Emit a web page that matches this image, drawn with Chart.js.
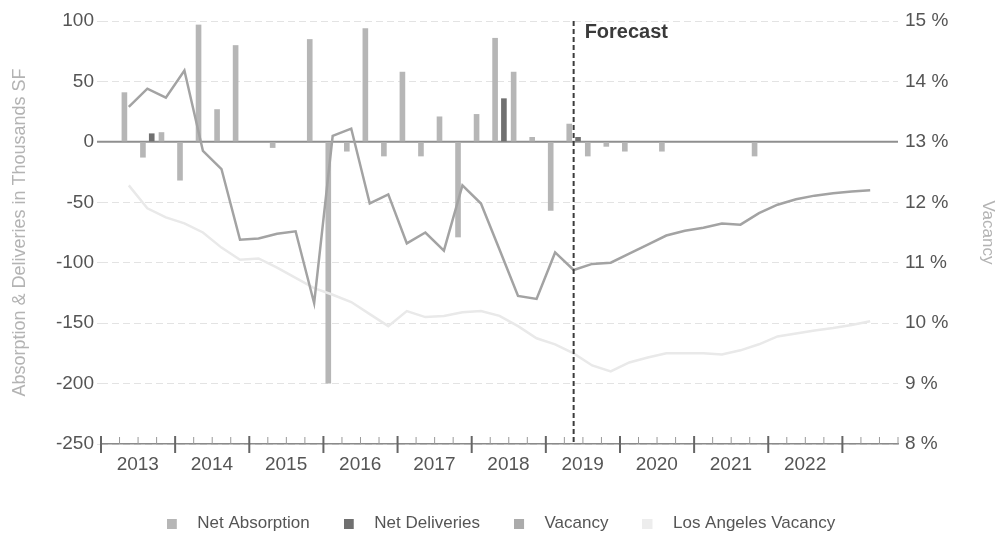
<!DOCTYPE html>
<html>
<head>
<meta charset="utf-8">
<script src="https://cdn.jsdelivr.net/npm/chart.js@4/dist/chart.umd.min.js"></script>
<style>
  html, body { margin: 0; padding: 0; background: #ffffff; }
  canvas { display: block; }
</style>
</head>
<body>
<canvas id="chart" width="1002" height="535"></canvas>
<script>
// Quarterly categories, 2013 Q1 through 2023 Q3
const quarters = [
  '2013 Q1','2013 Q2','2013 Q3','2013 Q4',
  '2014 Q1','2014 Q2','2014 Q3','2014 Q4',
  '2015 Q1','2015 Q2','2015 Q3','2015 Q4',
  '2016 Q1','2016 Q2','2016 Q3','2016 Q4',
  '2017 Q1','2017 Q2','2017 Q3','2017 Q4',
  '2018 Q1','2018 Q2','2018 Q3','2018 Q4',
  '2019 Q1','2019 Q2','2019 Q3','2019 Q4',
  '2020 Q1','2020 Q2','2020 Q3','2020 Q4',
  '2021 Q1','2021 Q2','2021 Q3','2021 Q4',
  '2022 Q1','2022 Q2','2022 Q3','2022 Q4',
  '2023 Q1','2023 Q2','2023 Q3'
];

// Year captions shown under the axis
const yearLabels = ['2013','2014','2015','2016','2017','2018','2019','2020','2021','2022'];

// Net absorption, thousands SF
const netAbsorption = [
  null, 41, -13, 8,
  -32, 97, 27, 80,
  null, -5, null, 85,
  -200, -8, 94, -12,
  58, -12, 21, -79,
  23, 86, 58, 4,
  -57, 15, -12, -4,
  -8, null, -8, null,
  null, null, null, -12,
  null, null, null, null,
  null, null, null
];

// Net deliveries, thousands SF
const netDeliveries = [
  null, null, 7, null,
  null, null, null, null,
  null, null, null, null,
  null, null, null, null,
  null, null, null, null,
  null, 36, null, null,
  null, 4, null, null,
  null, null, null, null,
  null, null, null, null,
  null, null, null, null,
  null, null, null
];

// Submarket vacancy rate, %
const vacancy = [
  null, 13.58, 13.88, 13.73,
  14.18, 12.85, 12.55, 11.38,
  11.40, 11.48, 11.52, 10.33,
  13.10, 13.22, 11.98, 12.13,
  11.32, 11.50, 11.20, 12.28,
  11.98, 11.22, 10.45, 10.40,
  11.17, 10.88, 10.98, 11.00,
  11.15, 11.30, 11.45, 11.53,
  11.58, 11.65, 11.63, 11.82,
  11.96, 12.05, 12.11, 12.15,
  12.18, 12.20, null
];

// Los Angeles market vacancy rate, %
const laVacancy = [
  null, 12.28, 11.90, 11.75,
  11.65, 11.50, 11.25, 11.05,
  11.07, 10.92, 10.75, 10.58,
  10.47, 10.35, 10.15, 9.95,
  10.20, 10.10, 10.12, 10.18,
  10.20, 10.12, 9.95, 9.75,
  9.65, 9.50, 9.30, 9.20,
  9.35, 9.43, 9.50, 9.50,
  9.50, 9.48, 9.55, 9.65,
  9.78, 9.83, 9.88, 9.92,
  9.97, 10.03, null
];

const forecastStart = '2019 Q2';
const forecastText = 'Forecast';

const FONT = "'Liberation Sans', Arial, sans-serif";

// Legend swatch: a small square at the left of a wider transparent strip,
// so the label text sits well clear of the square.
function legendSwatch(color) {
  const c = document.createElement('canvas');
  c.width = 22;
  c.height = 10;
  const g = c.getContext('2d');
  g.fillStyle = color;
  g.fillRect(0, 0, 10, 10);
  return c;
}

// Zero line, quarter/year tick marks and the forecast divider
const axisMarks = {
  id: 'axisMarks',
  beforeDatasetsDraw(chart) {
    const { ctx, chartArea, scales } = chart;
    const y0 = scales.y.getPixelForValue(0);
    ctx.save();
    ctx.strokeStyle = '#8f8f8f';
    ctx.lineWidth = 2;
    ctx.beginPath();
    ctx.moveTo(chartArea.left - 4, y0);
    ctx.lineTo(chartArea.right, y0);
    ctx.stroke();
    ctx.restore();
  },
  afterDatasetsDraw(chart) {
    const { ctx, chartArea, scales } = chart;
    const x = scales.x;
    const n = quarters.length;
    const step = x.getPixelForValue(1) - x.getPixelForValue(0);
    const bottom = chartArea.bottom;
    ctx.save();
    for (let i = 0; i <= n; i++) {
      const px = i < n ? x.getPixelForValue(i) - step / 2 : x.getPixelForValue(n - 1) + step / 2;
      const major = i % 4 === 0;
      ctx.beginPath();
      if (major) {
        ctx.strokeStyle = '#666666';
        ctx.lineWidth = 2;
        ctx.moveTo(px, bottom - 8);
        ctx.lineTo(px, bottom + 9);
      } else {
        ctx.strokeStyle = '#999999';
        ctx.lineWidth = 1;
        ctx.moveTo(px, bottom - 7);
        ctx.lineTo(px, bottom);
      }
      ctx.stroke();
    }

    const fx = x.getPixelForValue(quarters.indexOf(forecastStart));
    ctx.strokeStyle = '#3c3c3c';
    ctx.lineWidth = 2;
    ctx.setLineDash([5, 3]);
    ctx.beginPath();
    ctx.moveTo(fx, chartArea.top);
    ctx.lineTo(fx, bottom);
    ctx.stroke();
    ctx.setLineDash([]);

    ctx.fillStyle = '#3a3a3a';
    ctx.font = 'bold 20px ' + FONT;
    ctx.textBaseline = 'top';
    ctx.textAlign = 'left';
    ctx.fillText(forecastText, fx + 11, chartArea.top + 1);
    ctx.restore();
  }
};

new Chart(document.getElementById('chart'), {
  data: {
    labels: quarters,
    datasets: [
      {
        type: 'bar',
        label: 'Net Absorption',
        data: netAbsorption,
        backgroundColor: '#b6b6b6',
        yAxisID: 'y',
        order: 2,
        categoryPercentage: 0.95,
        barPercentage: 0.64
      },
      {
        type: 'bar',
        label: 'Net Deliveries',
        data: netDeliveries,
        backgroundColor: '#707070',
        yAxisID: 'y',
        order: 3,
        categoryPercentage: 0.95,
        barPercentage: 0.64
      },
      {
        type: 'line',
        label: 'Vacancy',
        data: vacancy,
        borderColor: '#a3a3a3',
        backgroundColor: '#ababab',
        borderWidth: 2.5,
        pointRadius: 0,
        tension: 0,
        fill: false,
        yAxisID: 'y1',
        order: 0
      },
      {
        type: 'line',
        label: 'Los Angeles Vacancy',
        data: laVacancy,
        borderColor: '#e9e9e9',
        backgroundColor: '#ededed',
        borderWidth: 2.5,
        pointRadius: 0,
        tension: 0,
        fill: false,
        yAxisID: 'y1',
        order: 1
      }
    ]
  },
  options: {
    responsive: false,
    animation: false,
    devicePixelRatio: 1,
    layout: { padding: { top: 21, right: 0, bottom: -7, left: 0 } },
    plugins: {
      tooltip: { enabled: false },
      legend: {
        position: 'bottom',
        labels: {
          usePointStyle: true,
          pointStyleWidth: 22,
          padding: 34,
          color: '#555555',
          font: { family: FONT, size: 17 },
          generateLabels(chart) {
            const items = Chart.defaults.plugins.legend.labels.generateLabels(chart);
            items.sort((a, b) => a.datasetIndex - b.datasetIndex);
            items.forEach(it => {
              it.pointStyle = legendSwatch(it.fillStyle);
              it.lineWidth = 0;
            });
            return items;
          }
        }
      }
    },
    scales: {
      x: {
        type: 'category',
        offset: true,
        grid: { display: false, drawTicks: false },
        border: { display: true, color: '#8a8a8a', width: 1.5 },
        ticks: {
          autoSkip: false,
          minRotation: 0,
          maxRotation: 0,
          labelOffset: 9,
          padding: 9,
          color: '#555555',
          font: { family: FONT, size: 19 },
          callback(value, index) {
            const lab = quarters[index];
            const yr = lab.slice(0, 4);
            return lab.endsWith('Q2') && yearLabels.includes(yr) ? yr : '';
          }
        },
        afterFit(scale) { scale.height = 37; }
      },
      y: {
        position: 'left',
        min: -250,
        max: 100,
        ticks: {
          stepSize: 50,
          color: '#555555',
          padding: 3,
          font: { family: FONT, size: 19 }
        },
        grid: {
          color: '#e3e3e3',
          lineWidth: 1,
          drawTicks: true,
          tickLength: 4,
          tickBorderDash: []
        },
        border: { display: false, dash: [7, 4] },
        title: {
          display: true,
          text: 'Absorption & Deliveries in Thousands SF',
          color: '#b3b3b3',
          font: { family: FONT, size: 18 },
          padding: { top: 9, bottom: 0 }
        },
        afterFit(scale) { scale.width = 101; }
      },
      y1: {
        position: 'right',
        min: 8,
        max: 15,
        ticks: {
          stepSize: 1,
          color: '#555555',
          padding: 7,
          font: { family: FONT, size: 19 },
          callback: v => v + ' %'
        },
        grid: { display: false, drawTicks: false },
        border: { display: false },
        title: {
          display: true,
          text: 'Vacancy',
          color: '#b3b3b3',
          font: { family: FONT, size: 17 },
          padding: { top: 4, bottom: 0 }
        },
        afterFit(scale) { scale.width = 104; }
      }
    }
  },
  plugins: [axisMarks]
});
</script>
</body>
</html>
